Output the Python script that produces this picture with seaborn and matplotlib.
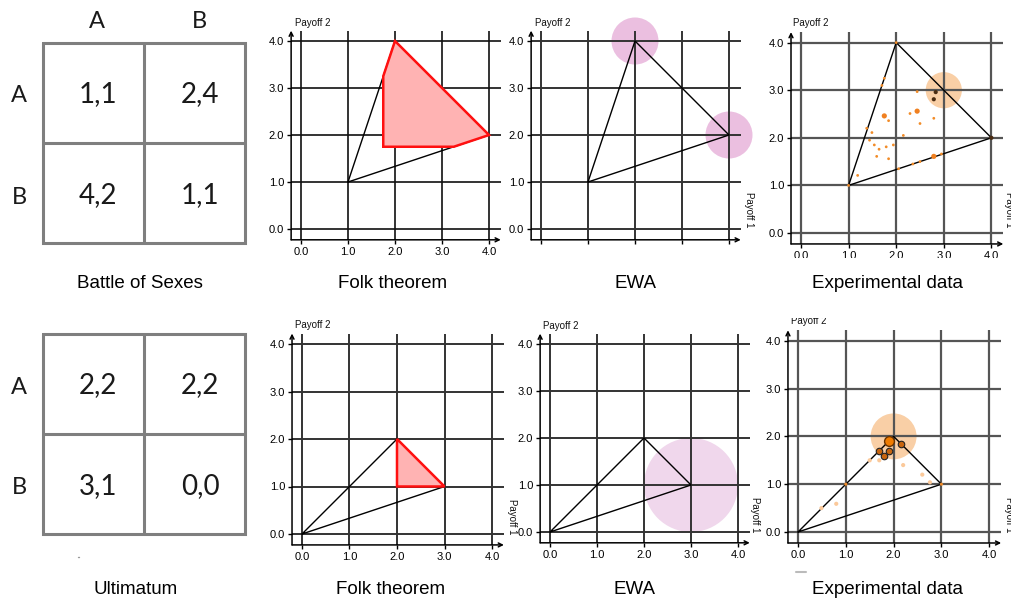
import matplotlib
matplotlib.use("Agg")
import matplotlib.pyplot as plt
from matplotlib.patches import Circle, Rectangle
import seaborn as sns
import numpy as np

# ---------------- data ----------------
tick_vals = [0, 1, 2, 3, 4]
tick_labels = ["0.0", "1.0", "2.0", "3.0", "4.0"]

strategies = ["A", "B"]
bos_payoffs = ["1,1", "2,4", "4,2", "1,1"]
ult_payoffs = ["2,2", "2,2", "3,1", "0,0"]

captions_top = ["Battle of Sexes", "Folk theorem", "EWA", "Experimental data"]
captions_bot = ["Ultimatum", "Folk theorem", "EWA", "Experimental data"]

# payoff hulls (closed)
bos_hull_x = [1, 2, 4, 1]
bos_hull_y = [1, 4, 2, 1]
ult_hull_x = [0, 2, 3, 0]
ult_hull_y = [0, 2, 1, 0]

# folk theorem regions
bos_folk_x = [1.75, 1.75, 2.0, 4.0, 3.25]
bos_folk_y = [1.75, 3.25, 4.0, 2.0, 1.75]
ult_folk_x = [2.0, 2.0, 3.0]
ult_folk_y = [1.0, 2.0, 1.0]

# EWA predictions (centre x, centre y, radius)
bos_ewa_x = [2.0, 4.0]
bos_ewa_y = [4.0, 2.0]
bos_ewa_r = [0.5, 0.5]
ult_ewa_x = [3.0]
ult_ewa_y = [1.0]
ult_ewa_r = [1.0]

# experimental data - Battle of Sexes
bos_small_x = [1.75, 1.70, 2.44, 1.84, 2.29, 2.50, 2.79, 1.38, 1.49, 2.15, 1.44, 1.54,
               1.79, 1.94, 1.64, 1.59, 1.84, 2.95, 2.35, 2.05, 1.19, 1.00, 2.00, 2.50]
bos_small_y = [3.25, 3.10, 2.97, 2.36, 2.51, 2.30, 2.41, 2.20, 2.11, 2.05, 1.95, 1.85,
               1.81, 1.85, 1.76, 1.61, 1.56, 1.66, 1.45, 1.35, 1.21, 1.00, 4.00, 1.50]
bos_big_x = [2.44, 1.75, 2.79]
bos_big_y = [2.56, 2.46, 1.61]
bos_dark_x = [2.83, 2.79, 4.00]
bos_dark_y = [2.96, 2.81, 2.00]
bos_mean = (3.0, 3.0, 0.38)

# experimental data - Ultimatum
ult_mid_x = [1.70, 1.90, 1.80, 2.15]
ult_mid_y = [1.70, 1.70, 1.60, 1.84]
ult_big_x = [1.91]
ult_big_y = [1.91]
ult_light_x = [1.70, 2.20, 2.60, 2.76, 0.80, 0.49, 1.50]
ult_light_y = [1.50, 1.40, 1.20, 1.04, 0.59, 0.50, 1.50]
ult_small_x = [1.0, 3.0]
ult_small_y = [1.0, 1.0]
ult_mean = (2.0, 2.0, 0.48)

# ---------------- style ----------------
sns.set_theme(style="white")
plt.rcParams["font.family"] = ["Liberation Sans", "DejaVu Sans"]

W, H = 1012, 601
fig = plt.figure(figsize=(W / 100, H / 100), dpi=100)
fig.patch.set_facecolor("white")

XL, XR, YB, YT = -0.21, 4.25, -0.23, 4.22


def panel(x0, y0, s, xlabels=True, gridc="#2a2a2a", gridw=1.3):
    left = x0 + XL * s
    right = x0 + XR * s
    top = y0 - YT * s
    bottom = y0 - YB * s
    ax = fig.add_axes([left / W, 1 - bottom / H, (right - left) / W, (bottom - top) / H])
    ax.set_xlim(XL, XR)
    ax.set_ylim(YB, YT)
    ax.set_facecolor("none")
    for sp in ax.spines.values():
        sp.set_visible(False)
    ax.set_xticks(tick_vals)
    ax.set_yticks(tick_vals)
    ax.set_xticklabels(tick_labels if xlabels else [""] * 5)
    ax.set_yticklabels(tick_labels)
    ax.tick_params(axis="both", which="both", labelsize=8, length=3, width=1,
                   pad=2, colors="black", bottom=True, left=True, direction="out")
    ax.set_axisbelow(True)
    ax.grid(True, color=gridc, lw=gridw)
    # arrowed axes
    ax.annotate("", xy=(XR, YB), xytext=(XL, YB), xycoords="data",
                arrowprops=dict(arrowstyle="->", lw=1.1, color="black",
                                shrinkA=0, shrinkB=0, mutation_scale=7),
                annotation_clip=False)
    ax.annotate("", xy=(XL, YT), xytext=(XL, YB), xycoords="data",
                arrowprops=dict(arrowstyle="->", lw=1.1, color="black",
                                shrinkA=0, shrinkB=0, mutation_scale=7),
                annotation_clip=False)
    return ax


def hull(ax, hx, hy):
    sns.lineplot(x=hx, y=hy, sort=False, estimator=None, color="black", lw=1.0, ax=ax)
    ax.set_xlabel("")
    ax.set_ylabel("")


# ---- top row ----
ax1 = panel(301, 229, 47, gridc="#111111", gridw=1.2)
hull(ax1, bos_hull_x, bos_hull_y)
ax1.fill(bos_folk_x, bos_folk_y, facecolor="#ffb3b3", edgecolor="#ff1010", lw=1.8, zorder=3)

ax2 = panel(541, 229, 47, xlabels=False, gridc="#333333", gridw=1.4)
for cx, cy, r in zip(bos_ewa_x, bos_ewa_y, bos_ewa_r):
    ax2.add_patch(Circle((cx, cy), r, facecolor="#ebbfe0", edgecolor="none",
                         zorder=0.3, clip_on=False))
hull(ax2, bos_hull_x, bos_hull_y)

ax3 = panel(801, 233, 47.6, gridc="#555555", gridw=1.6)
ax3.add_patch(Circle(bos_mean[:2], bos_mean[2], facecolor="#f9cfa6", edgecolor="none", zorder=0.3))
hull(ax3, bos_hull_x, bos_hull_y)
sns.scatterplot(x=bos_small_x, y=bos_small_y, s=4, color="#f28c28", edgecolor="none", ax=ax3, zorder=4)
sns.scatterplot(x=bos_big_x, y=bos_big_y, s=14, color="#f08020", edgecolor="none", ax=ax3, zorder=4)
sns.scatterplot(x=bos_dark_x, y=bos_dark_y, s=9, color="#4a2c12", edgecolor="none", ax=ax3, zorder=4)

# ---- bottom row ----
ax4 = panel(302, 534, 47.5, gridc="#333333", gridw=1.4)
hull(ax4, ult_hull_x, ult_hull_y)
ax4.fill(ult_folk_x, ult_folk_y, facecolor="#ffb3b3", edgecolor="#ff1010", lw=1.8, zorder=3)

ax5 = panel(550, 532, 47, gridc="#333333", gridw=1.4)
for cx, cy, r in zip(ult_ewa_x, ult_ewa_y, ult_ewa_r):
    ax5.add_patch(Circle((cx, cy), r, facecolor="#f0d7ec", edgecolor="none",
                         zorder=0.3, clip_on=False))
hull(ax5, ult_hull_x, ult_hull_y)

ax6 = panel(798, 532, 47.8, gridc="#555555", gridw=1.6)
ax6.add_patch(Circle(ult_mean[:2], ult_mean[2], facecolor="#f9cfa6", edgecolor="none", zorder=0.3))
hull(ax6, ult_hull_x, ult_hull_y)
sns.scatterplot(x=ult_light_x, y=ult_light_y, s=9, color="#fbc99a", edgecolor="none", ax=ax6, zorder=4)
sns.scatterplot(x=ult_small_x, y=ult_small_y, s=5, color="#f28c28", edgecolor="none", ax=ax6, zorder=4)
sns.scatterplot(x=ult_mid_x, y=ult_mid_y, s=22, color="#c8650f", edgecolor="#222222", linewidth=0.8, ax=ax6, zorder=5)
sns.scatterplot(x=ult_big_x, y=ult_big_y, s=50, color="#f07c00", edgecolor="#6a3300", linewidth=1.0, ax=ax6, zorder=5)

# ---------------- overlay (pixel coordinates) ----------------
ov = fig.add_axes([0, 0, 1, 1], zorder=10)
ov.set_xlim(0, W)
ov.set_ylim(H, 0)
ov.axis("off")
ov.patch.set_alpha(0)


def matrix(top, payoffs, col_labels):
    L, M, R = 43, 144, 245
    mid, bot = top + 100, top + 200
    gc = "#7f7f7f"
    ov.plot([L, R, R, L, L], [top, top, bot, bot, top], color=gc, lw=2.2, solid_joinstyle="miter")
    ov.plot([M, M], [top, bot], color=gc, lw=2.2)
    ov.plot([L, R], [mid, mid], color=gc, lw=2.2)
    cx = [98, 200]
    cy = [top + 51, mid + 52]
    for i, p in enumerate(payoffs):
        r, c = divmod(i, 2)
        ov.text(cx[c], cy[r], p, ha="center", va="center", fontsize=20,
                family=["Lato", "DejaVu Sans"], color="#1a1a1a")
    for r, lab in enumerate(strategies):
        ov.text(19, cy[r] + 2, lab, ha="center", va="center", fontsize=17,
                family=["Lato", "DejaVu Sans"], color="#1a1a1a")
    if col_labels:
        for c, lab in enumerate(strategies):
            ov.text(cx[c] - 1, top - 21, lab, ha="center", va="center", fontsize=17,
                    family=["Lato", "DejaVu Sans"], color="#1a1a1a")


matrix(43, bos_payoffs, True)
matrix(334, ult_payoffs, False)

# captions
cap_x_top = [140, 393, 636, 888]
cap_x_bot = [136, 391, 635, 888]
for x, t in zip(cap_x_top, captions_top):
    ov.text(x, 283, t, ha="center", va="center", fontsize=13.5, color="black")
for x, t in zip(cap_x_bot, captions_bot):
    ov.text(x, 590, t, ha="center", va="center", fontsize=13.5, color="black")

# axis titles
for x, y in [(295, 23), (535, 23), (793, 23), (295, 325), (543, 326), (791, 321)]:
    ov.text(x, y, "Payoff 2", ha="left", va="center", fontsize=7, color="#111111")
for x, y in [(749, 210), (1009, 210), (512, 517), (755, 515), (1009, 515)]:
    ov.text(x, y, "Payoff 1", ha="center", va="center", fontsize=7, rotation=-90, color="#111111")

# crop masks (source panels were cropped)
ov.add_patch(Rectangle((783, 258), 229, 14, facecolor="white", edgecolor="none", zorder=20))
ov.add_patch(Rectangle((783, 296), 229, 22, facecolor="white", edgecolor="none", zorder=20))

# small stray marks present in the source
ov.plot([78, 78.8], [557, 557], color="#999999", lw=1)
ov.plot([796, 806], [572, 572], color="#bbbbbb", lw=1.5)

fig.savefig("out.png", dpi=100, facecolor="white")
